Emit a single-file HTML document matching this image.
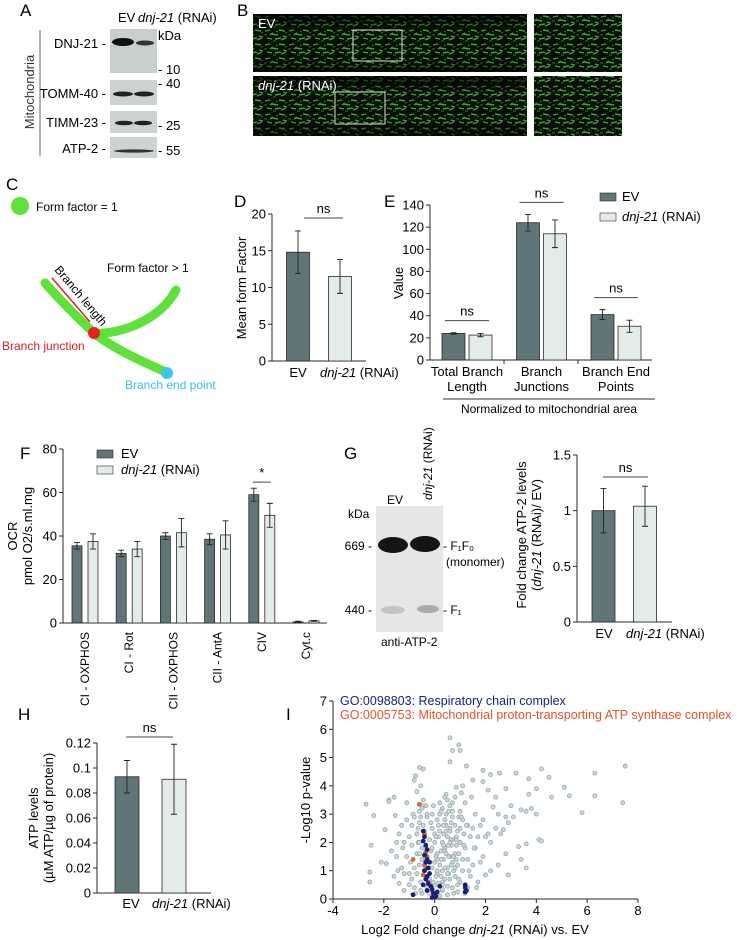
<!DOCTYPE html>
<html><head><meta charset="utf-8"><style>
body{margin:0;background:#fff}
svg{display:block;font-family:"Liberation Sans",Arial,sans-serif}
</style></head><body>
<svg id="fig" width="737" height="940" viewBox="0 0 737 940" xmlns="http://www.w3.org/2000/svg">
<defs>
<pattern id="mito" width="24" height="14" patternUnits="userSpaceOnUse">
<rect width="24" height="14" fill="#0a0d08"/>
<path d="M1 3l5-1M8 6l6 1M15 2l6 1M3 10l5 1M11 11l6-1M19 8l4 1M6 7l3-2M17 12l5-2" stroke="#3aa82a" stroke-width="1.4"/>
<path d="M0 7l3 0M12 3l2 1M21 5l2-1M9 13l3 0" stroke="#2a7a1e" stroke-width="1.1"/>
</pattern>
<linearGradient id="fade" x1="0" y1="0" x2="0" y2="1"><stop offset="0" stop-color="#000" stop-opacity="0.75"/><stop offset="0.3" stop-color="#000" stop-opacity="0"/><stop offset="0.75" stop-color="#000" stop-opacity="0"/><stop offset="1" stop-color="#000" stop-opacity="0.6"/></linearGradient>
</defs>

<!-- Panel A -->
<g font-size="13">
<text x="20" y="16" font-size="17">A</text>
<text x="118" y="22">EV</text>
<text x="138" y="22"><tspan font-style="italic">dnj-21</tspan> (RNAi)</text>
<line x1="40" y1="30" x2="40" y2="156" stroke="#666"/>
<text transform="translate(34,92) rotate(-90)" text-anchor="middle" fill="#333">Mitochondria</text>
<rect x="110" y="29" width="47" height="44" fill="#c8d0cd"/>
<ellipse cx="123" cy="42" rx="11" ry="4" fill="#111"/><ellipse cx="145" cy="43" rx="9" ry="2.5" fill="#333"/>
<rect x="110" y="80" width="47" height="25" fill="#ccd3d0"/>
<ellipse cx="123" cy="94" rx="10" ry="2.5" fill="#222"/><ellipse cx="144" cy="94" rx="10" ry="2.5" fill="#222"/>
<rect x="110" y="111" width="47" height="22" fill="#ccd3d0"/>
<ellipse cx="124" cy="123" rx="9" ry="2.3" fill="#222"/><ellipse cx="143" cy="123" rx="9" ry="2.3" fill="#222"/>
<rect x="110" y="137" width="47" height="21" fill="#ccd3d0"/>
<ellipse cx="134" cy="151" rx="20" ry="1.6" fill="#333"/>
<text x="106" y="48" text-anchor="end">DNJ-21 -</text>
<text x="106" y="98" text-anchor="end">TOMM-40 -</text>
<text x="106" y="127" text-anchor="end">TIMM-23 -</text>
<text x="106" y="153" text-anchor="end">ATP-2 -</text>
<text x="158" y="40">kDa</text>
<text x="158" y="74">- 10</text>
<text x="158" y="88">- 40</text>
<text x="158" y="130">- 25</text>
<text x="158" y="155">- 55</text>
</g>

<!-- Panel B -->
<g>
<text x="237" y="16" font-size="17">B</text>
<rect x="253" y="14" width="274" height="58" fill="url(#mito)"/>
<rect x="253" y="14" width="274" height="58" fill="url(#fade)"/>
<rect x="534" y="14" width="88" height="58" fill="url(#mito)"/>
<rect x="253" y="76" width="274" height="60" fill="url(#mito)"/>
<rect x="253" y="76" width="274" height="60" fill="url(#fade)"/>
<rect x="534" y="76" width="88" height="60" fill="url(#mito)"/>
<rect x="353" y="30" width="49" height="31" fill="none" stroke="#ddd" stroke-width="1"/>
<rect x="335" y="92" width="50" height="32" fill="none" stroke="#ddd" stroke-width="1"/>
<text x="258" y="28" fill="#fff" font-size="13">EV</text>
<text x="258" y="90" fill="#fff" font-size="13"><tspan font-style="italic">dnj-21</tspan> (RNAi)</text>
</g>

<!-- Panel C -->
<g font-size="12">
<text x="6" y="190" font-size="17">C</text>
<circle cx="20" cy="206" r="9" fill="#5fe03a"/>
<text x="36" y="211">Form factor = 1</text>
<path d="M45 283 C60 300,80 320,94 333 C115 350,150 365,166 372" fill="none" stroke="#5fe03a" stroke-width="9" stroke-linecap="round"/>
<path d="M94 333 C120 335,160 320,176 290" fill="none" stroke="#5fe03a" stroke-width="9" stroke-linecap="round"/>
<line x1="52" y1="278" x2="90" y2="322" stroke="#e02020" stroke-width="1.5"/>
<text transform="translate(54,270) rotate(50)">Branch length</text>
<circle cx="94" cy="333" r="6" fill="#e82020"/>
<circle cx="167" cy="373" r="6" fill="#38c8e8"/>
<text x="107" y="272">Form factor  &gt; 1</text>
<text x="2" y="350" fill="#e02020">Branch junction</text>
<text x="125" y="389" fill="#38c0e0">Branch end point</text>
</g>

<g font-size="12">
<text x="234" y="207" font-size="17">D</text>
<text x="384" y="207" font-size="17">E</text>
<text x="20" y="459" font-size="17">F</text>
<text x="344" y="459" font-size="17">G</text>
<text x="18" y="720" font-size="17">H</text>
<text x="286" y="720" font-size="17">I</text>
<line x1="443" y1="399" x2="655" y2="399" stroke="#333"/>
<text x="549" y="413" text-anchor="middle">Normalized to mitochondrial area</text>
</g>

<!-- Panel G blot -->
<g font-size="12">
<rect x="376" y="506" width="67" height="126" fill="#e6e6e6"/>
<ellipse cx="393" cy="545" rx="15" ry="8" fill="#151515"/><ellipse cx="425" cy="544" rx="15" ry="8" fill="#151515"/>
<ellipse cx="393" cy="610" rx="12" ry="4" fill="#c4c4c4"/><ellipse cx="428" cy="609" rx="11" ry="4" fill="#aaa"/>
<text x="387" y="504">EV</text>
<text transform="translate(432,500) rotate(-90)"><tspan font-style="italic">dnj-21</tspan> (RNAi)</text>
<text x="348" y="518">kDa</text>
<text x="372" y="550" text-anchor="end">669 -</text>
<text x="372" y="614" text-anchor="end">440 -</text>
<text x="443" y="550">- F₁F₀</text>
<text x="446" y="566">(monomer)</text>
<text x="443" y="614">- F₁</text>
<text x="381" y="646">anti-ATP-2</text>
</g>

<g id="charts"></g>
</svg>
<script>
// ---- data ----
const dCats = ['EV', 'dnj-21'];
const dVals = [14.8, 11.5];
const dErr = [2.9, 2.3];
const eCats = [['Total Branch','Length'], ['Branch','Junctions'], ['Branch End','Points']];
const eEV = [24, 124, 41];
const eRNAi = [22.5, 114, 30.5];
const eEVErr = [0.7, 7.5, 4.5];
const eRNAiErr = [1.5, 12.5, 5.5];
const fCats = ['CI - OXPHOS', 'CI - Rot', 'CII - OXPHOS', 'CII - AntA', 'CIV', 'Cyt.c'];
const fEV = [35.5, 32, 40, 38.5, 59, 0.5];
const fRNAi = [37.5, 34, 41.5, 40.5, 49.5, 1];
const fEVErr = [1.5, 1.5, 1.5, 2.5, 3, 0.3];
const fRNAiErr = [3.5, 3.5, 6.5, 6.5, 5.5, 0.2];
const gVals = [1, 1.04];
const gErr = [0.2, 0.18];
const hVals = [0.093, 0.091];
const hErr = [0.013, 0.028];
const dTicks = [0, 5, 10, 15, 20];
const eTicks = [0, 20, 40, 60, 80, 100, 120, 140];
const fTicks = [0, 20, 40, 60, 80];
const gTicks = [0, 0.5, 1, 1.5];
const gTickLabels = ['0', '0.5', '1', '1.5'];
const hTicks = [0, 0.02, 0.04, 0.06, 0.08, 0.1, 0.12];
const hTickLabels = ['0', '0.02', '0.04', '0.06', '0.08', '0.1', '0.12'];
const iXTicks = [-4, -2, 0, 2, 4, 6, 8];
const iYTicks = [0, 1, 2, 3, 4, 5, 6, 7];
const iGrayX = [-2.7,-2.4,-2.5,-2.55,-2.55,-2.1,-1.95,-1.9,-1.8,-1.8,-1.6,-1.55,-1.5,-1.45,-1.4,-1.3,-1.25,-1.2,-1.1,-1.0,-0.95,-0.9,-0.85,-0.8,-0.75,-0.7,-0.65,-0.6,-0.55,-0.6,-0.45,-0.35,-0.3,-0.7,-0.9,-1.1,-1.2,-1.4,-0.8,-1.0,
0.6,0.95,1.0,0.7,0.6,1.25,1.9,2.2,2.55,3.2,3.7,4.2,4.5,5.1,5.3,6.3,6.3,7.5,7.4,4.0,3.7,4.6,5.8,3.4,3.6,3.8,4.0,3.0,2.8,2.4,2.1,1.9,1.5,3.3,3.6,3.4,3.6,4.1,4.2,2.8,2.9,2.5,2.2,2.0,3.1,2.7,2.4,2.6,2.2,1.9,2.8,2.9,2.5,2.3,1.8,2.0,
-0.5,-0.3,-0.2,-0.4,-0.6,-0.3,-0.5,-0.2,-0.4,-0.6,-0.3,-0.5,-0.45,-0.2,0,0.1,0.2,0.1,0.3,0.2,0.4,0.3,0.5,0.45,0.6,0.7,0.6,0.5,0.4,0.6,0.5,0.4,0.3,0.7,0.8,0.9,0.8,1.0,0.9,1.1,1.0,1.2,1.3,1.4,1.2,1.3,1.1,1.0,1.4,1.5,1.6,1.5,1.7,1.8,1.7,0.2,0.5,0.9,1.3,0.0,0.0,0.1,0.2,-0.1,0.8,0.35,0.75,0.65,0.55,0.85,0.25,0.15,0.95,1.15,0.45,0.7,0.3,0.05,-0.1,-0.15,-0.1,1.6,1.9,2.1,1.45,1.05,0.85,1.1,
-0.8,-1.0,-0.7,-0.9,-1.1,-1.3,-1.6,-1.7,-1.5,-0.8,-0.75,-1.2,
-0.55,-0.5,-0.6,-0.65,-0.55,-0.5,-0.6,-0.7,-0.45,-0.55,-0.15,-0.1,-0.05,0.05,0.0,-0.05,0.1,0.15,0.25,0.3,0.35,0.4,0.45,0.55,0.6,0.65,0.7,0.75,0.8,0.85,0.9,0.95,1.05,1.1,0.15,0.25,0.35,0.45,0.55,0.65,0.75,0.85,0.2,0.3,0.4,0.5,0.6,0.7,0.8,0.1,0.35,0.55,0.75,0.95,1.15,1.25,1.35,1.55,1.65,0.05,0.25,0.45,0.65,0.85,1.0,1.2,0.3,0.5,0.4,0.6];
const iGrayY = [3.35,2.95,1.9,0.95,0.6,1.3,2.45,1.25,3.5,3.45,3.6,2.95,1.5,1.0,0.55,2.6,1.8,0.9,3.4,2.2,1.3,0.7,3.0,4.2,4.35,3.8,2.0,4.65,4.0,3.1,4.6,3.3,2.9,1.6,1.9,1.5,2.0,2.3,0.4,0.5,
5.7,5.45,5.25,5.25,4.85,4.7,4.55,4.4,4.45,4.45,4.25,4.6,4.3,3.95,3.65,4.45,3.65,4.7,3.4,3.9,3.7,3.6,3.05,3.15,3.1,3.2,3.0,3.3,3.9,3.6,3.85,4.15,4.2,1.85,1.95,1.4,1.1,2.1,2.05,1.6,0.85,1.2,1.0,0.85,2.9,2.45,2.5,2.3,2.0,1.5,2.9,2.7,3.0,3.25,2.6,2.2,
0.2,0.4,0.7,1.0,1.2,1.5,1.8,2.1,2.4,2.7,3.0,3.3,3.5,0.2,0.5,0.9,1.2,1.6,2.0,2.4,2.8,3.2,3.5,3.7,3.3,2.9,2.5,2.2,1.8,1.5,1.1,0.7,0.3,0.4,0.8,1.2,1.6,2.0,2.4,2.8,3.1,3.4,2.6,2.2,1.8,1.4,1.0,0.6,0.8,1.2,1.8,2.5,2.2,1.3,0.6,0.1,0.15,0.25,0.4,1.3,2.0,2.8,3.4,3.0,3.6,1.4,2.1,1.9,0.9,1.4,1.7,2.2,2.9,2.3,2.6,3.1,0.6,0.8,1.1,1.7,2.5,3.0,2.8,2.3,3.6,3.75,3.95,4.0,
1.1,0.9,2.3,2.6,2.8,1.1,0.8,1.7,2.0,2.9,0.2,0.3,
0.6,1.4,2.0,2.5,2.9,3.2,1.6,0.9,2.6,0.3,2.7,1.8,0.6,1.5,2.3,3.3,1.0,2.6,1.4,0.5,2.3,1.1,3.0,1.9,0.7,2.1,1.3,0.2,2.6,1.9,0.5,1.6,2.9,1.4,0.55,0.8,1.9,2.4,1.5,2.7,1.0,2.2,3.0,1.0,1.7,0.9,2.0,3.4,1.1,1.4,2.6,3.1,1.5,0.7,1.9,2.6,1.0,1.8,0.4,2.2,3.1,1.6,1.2,2.1,2.5,0.2,0.35,0.45,3.6,2.4];
const iBlueX = [-0.45,-0.4,-0.45,-0.35,-0.3,-0.4,-0.3,-0.35,-0.25,-0.4,-0.2,-0.3,-0.35,-0.25,-0.15,-0.3,-0.1,-0.05,0.0,0.05,0.1,0.2,-0.1,-0.85,1.2,1.2,1.25,1.2,-0.45,-0.2];
const iBlueY = [2.4,2.2,2.05,1.9,1.75,1.55,1.4,1.3,1.1,1.0,0.9,0.8,0.7,0.55,0.45,0.3,0.35,0.2,0.1,0.1,0.25,0.45,0.05,0.15,0.5,0.4,0.3,0.25,0.5,1.3];
const iOrangeX = [-0.6,-0.4,-0.35,-0.3,-0.4,-0.45,-0.85,-0.25,-0.1,-0.35];
const iOrangeY = [3.35,2.3,1.65,1.5,1.2,0.85,1.4,0.6,0.3,1.1];

// ---- helpers ----
const NS = 'http://www.w3.org/2000/svg';
const root = document.getElementById('charts');
const EVC = '#5f7578', RC = '#e4ecea', STROKE = '#2a2a2a';
function mk(tag, attrs, parent) {
  const e = document.createElementNS(NS, tag);
  for (const k in attrs) e.setAttribute(k, attrs[k]);
  (parent || root).appendChild(e);
  return e;
}
function txt(x, y, s, attrs, parent) {
  const t = mk('text', Object.assign({x: x, y: y, 'font-size': 12}, attrs || {}), parent);
  t.textContent = s;
  return t;
}
function linScale(d0, d1, r0, r1) { return v => r0 + (v - d0) / (d1 - d0) * (r1 - r0); }
function yAxis(g, x, sy, ticks, labels, yTop, yBot) {
  const ax = mk('line', {x1: x, y1: yTop, x2: x, y2: yBot, stroke: STROKE}, g);
  
  
  ticks.forEach((t, i) => {
    mk('line', {x1: x - 4, y1: sy(t), x2: x, y2: sy(t), stroke: STROKE}, g);
    const lb = txt(x - 6, sy(t) + 4.5, labels ? labels[i] : String(t), {'text-anchor': 'end', 'font-size': 13}, g);
    
    
  });
}
function bar(g, cx, w, sy, v, err, fill, name) {
  const r = mk('rect', {x: cx - w / 2, y: sy(v), width: w, height: sy(0) - sy(v), fill: fill, stroke: STROKE, 'stroke-width': 0.8}, g);
  
  
  const e = mk('path', {d: `M${cx} ${sy(v + err)}V${sy(v - err)}M${cx - 3} ${sy(v + err)}h6M${cx - 3} ${sy(v - err)}h6`, stroke: '#222', 'stroke-width': 0.9, fill: 'none'}, g);
  
  
}
function sig(g, x1, x2, y, label) {
  const l = mk('line', {x1: x1, y1: y, x2: x2, y2: y, stroke: '#444'}, g);
  
  
  const t = txt((x1 + x2) / 2, y - 5, label, {'text-anchor': 'middle', 'font-size': 13}, g);
  
  
}
function rnaiLabel(g, x, y, anchor) {
  const t = mk('text', {x: x, y: y, 'font-size': 13, 'text-anchor': anchor || 'start'}, g);
  const s1 = mk('tspan', {'font-style': 'italic'}, t); s1.textContent = 'dnj-21';
  const s2 = mk('tspan', {}, t); s2.textContent = ' (RNAi)';
  return t;
}

// ---- D ----
(function () {
  const g = mk('g', {});
  
  
  const sy = linScale(0, 20, 361, 214);
  yAxis(g, 272, sy, dTicks, null, 214, 361);
  mk('line', {x1: 272, y1: 361, x2: 366, y2: 361, stroke: STROKE}, g);
  const xs = [298, 340];
  dVals.forEach((v, i) => bar(g, xs[i], 23, sy, v, dErr[i], i ? RC : EVC, 'bar-d-' + dCats[i]));
  sig(g, 304, 343, 218, 'ns');
  txt(298, 377, 'EV', {'text-anchor': 'middle', 'font-size': 13}, g);
  rnaiLabel(g, 320, 377);
  const yl = txt(0, 0, 'Mean form Factor', {transform: 'translate(246,288) rotate(-90)', 'text-anchor': 'middle', 'font-size': 13}, g);
  
  
})();

// ---- E ----
(function () {
  const g = mk('g', {});
  
  
  const sy = linScale(0, 140, 360, 205);
  yAxis(g, 430, sy, eTicks, null, 205, 360);
  mk('line', {x1: 430, y1: 360, x2: 652, y2: 360, stroke: STROKE}, g);
  [504, 578].forEach(x => mk('line', {x1: x, y1: 360, x2: x, y2: 364, stroke: STROKE}, g));
  const gx = i => 467 + i * 74.5;
  eCats.forEach((c, i) => {
    bar(g, gx(i) - 13.5, 23, sy, eEV[i], eEVErr[i], EVC, 'bar-e-ev-' + i);
    bar(g, gx(i) + 13.5, 23, sy, eRNAi[i], eRNAiErr[i], RC, 'bar-e-rnai-' + i);
    const ymax = Math.max(eEV[i] + eEVErr[i], eRNAi[i] + eRNAiErr[i]);
    sig(g, gx(i) - 22, gx(i) + 22, sy(ymax) - 12, 'ns');
    const t1 = txt(gx(i), 376, c[0], {'text-anchor': 'middle', 'font-size': 13}, g);
    
    
    txt(gx(i), 391, c[1], {'text-anchor': 'middle', 'font-size': 13}, g);
  });
  const yl = txt(0, 0, 'Value', {transform: 'translate(403,283) rotate(-90)', 'text-anchor': 'middle', 'font-size': 13}, g);
  
  
  const l1 = mk('rect', {x: 600, y: 193, width: 16, height: 8, fill: EVC, stroke: STROKE, 'stroke-width': 0.6}, g);
  
  
  txt(622, 201, 'EV', {'font-size': 13}, g);
  const l2 = mk('rect', {x: 600, y: 213, width: 16, height: 8, fill: RC, stroke: STROKE, 'stroke-width': 0.6}, g);
  
  
  rnaiLabel(g, 622, 221);
})();

// ---- F ----
(function () {
  const g = mk('g', {});
  
  
  const sy = linScale(0, 80, 623, 449);
  yAxis(g, 63, sy, fTicks, null, 449, 623);
  mk('line', {x1: 63, y1: 623, x2: 327, y2: 623, stroke: STROKE}, g);
  const gx = i => 85 + i * 44.2;
  fCats.forEach((c, i) => {
    bar(g, gx(i) - 8, 10, sy, fEV[i], fEVErr[i], EVC, 'bar-f-ev-' + i);
    bar(g, gx(i) + 8, 10, sy, fRNAi[i], fRNAiErr[i], RC, 'bar-f-rnai-' + i);
    const t = txt(0, 0, c, {transform: `translate(${gx(i) + 4},632) rotate(-90)`, 'text-anchor': 'end', 'font-size': 12}, g);
    
    
  });
  const ci = 4;
  sig(g, gx(ci) - 9, gx(ci) + 9, sy(fEV[ci] + fEVErr[ci]) - 6, '*');
  const yl = txt(0, 0, 'OCR', {transform: 'translate(17,536) rotate(-90)', 'text-anchor': 'middle', 'font-size': 13}, g);
  
  
  txt(0, 0, 'pmol O2/s.ml.mg', {transform: 'translate(32,536) rotate(-90)', 'text-anchor': 'middle', 'font-size': 13}, g);
  const l1 = mk('rect', {x: 97, y: 450, width: 16, height: 8, fill: EVC, stroke: STROKE, 'stroke-width': 0.6}, g);
  
  
  txt(121, 458, 'EV', {'font-size': 13}, g);
  const l2 = mk('rect', {x: 97, y: 466, width: 16, height: 8, fill: RC, stroke: STROKE, 'stroke-width': 0.6}, g);
  
  
  rnaiLabel(g, 121, 474);
})();

// ---- G ----
(function () {
  const g = mk('g', {});
  
  
  const sy = linScale(0, 1.5, 622, 455);
  yAxis(g, 577, sy, gTicks, gTickLabels, 455, 622);
  mk('line', {x1: 577, y1: 622, x2: 672, y2: 622, stroke: STROKE}, g);
  const xs = [603.5, 645];
  gVals.forEach((v, i) => bar(g, xs[i], 23, sy, v, gErr[i], i ? RC : EVC, 'bar-g-' + i));
  sig(g, 603, 648, 477, 'ns');
  txt(604, 638, 'EV', {'text-anchor': 'middle', 'font-size': 13}, g);
  rnaiLabel(g, 626, 638);
  const yl = txt(0, 0, 'Fold change ATP-2 levels', {transform: 'translate(526,535) rotate(-90)', 'text-anchor': 'middle', 'font-size': 13}, g);
  
  
  const t2 = mk('text', {transform: 'translate(541,535) rotate(-90)', 'text-anchor': 'middle', 'font-size': 13}, g);
  const a = mk('tspan', {}, t2); a.textContent = '(';
  const b = mk('tspan', {'font-style': 'italic'}, t2); b.textContent = 'dnj-21';
  const c = mk('tspan', {}, t2); c.textContent = ' (RNAi)/ EV)';
})();

// ---- H ----
(function () {
  const g = mk('g', {});
  
  
  const sy = linScale(0, 0.12, 893, 743);
  yAxis(g, 97, sy, hTicks, hTickLabels, 743, 893);
  mk('line', {x1: 97, y1: 893, x2: 211, y2: 893, stroke: STROKE}, g);
  const xs = [127, 174];
  hVals.forEach((v, i) => bar(g, xs[i], 24, sy, v, hErr[i], i ? RC : EVC, 'bar-h-' + i));
  sig(g, 126, 173, 737, 'ns');
  txt(131, 908, 'EV', {'text-anchor': 'middle', 'font-size': 13}, g);
  rnaiLabel(g, 152, 908);
  const yl = txt(0, 0, 'ATP levels', {transform: 'translate(38,818) rotate(-90)', 'text-anchor': 'middle', 'font-size': 13}, g);
  
  
  txt(0, 0, '(µM ATP/µg of protein)', {transform: 'translate(53,818) rotate(-90)', 'text-anchor': 'middle', 'font-size': 13}, g);
})();

// ---- I ----
(function () {
  const g = mk('g', {});
  
  
  const sx = linScale(-4, 8, 333, 638);
  const sy = linScale(0, 7, 899, 701);
  yAxis(g, 333, sy, iYTicks, null, 701, 899);
  const xa = mk('line', {x1: 333, y1: 899, x2: 638, y2: 899, stroke: STROKE}, g);
  
  
  iXTicks.forEach(t => {
    mk('line', {x1: sx(t), y1: 899, x2: sx(t), y2: 903, stroke: STROKE}, g);
    const lb = txt(sx(t), 915, String(t), {'text-anchor': 'middle', 'font-size': 13}, g);
    
    
  });
  iGrayX.forEach((x, i) => {
    const c = mk('circle', {cx: sx(x), cy: sy(iGrayY[i]), r: 2, fill: '#cdd9d8', stroke: '#93a8a8', 'stroke-width': 0.8}, g);
    
    
  });
  iOrangeX.forEach((x, i) => {
    const c = mk('circle', {cx: sx(x), cy: sy(iOrangeY[i]), r: 2.4, fill: '#e0642a'}, g);
    
    
  });
  iBlueX.forEach((x, i) => {
    const c = mk('circle', {cx: sx(x), cy: sy(iBlueY[i]), r: 2.4, fill: '#15207a'}, g);
    
    
  });
  const l1 = txt(340, 705, 'GO:0098803: Respiratory chain complex', {fill: '#1a237e', 'font-size': 12.5}, g);
  
  
  const l2 = txt(340, 719, 'GO:0005753: Mitochondrial proton-transporting ATP synthase complex', {fill: '#e0542a', 'font-size': 12.5}, g);
  
  
  const yl = txt(0, 0, '-Log10 p-value', {transform: 'translate(310,800) rotate(-90)', 'text-anchor': 'middle', 'font-size': 13}, g);
  
  
  const xt = mk('text', {x: 475, y: 934, 'text-anchor': 'middle', 'font-size': 13}, g);
  
  
  const a = mk('tspan', {}, xt); a.textContent = 'Log2 Fold change ';
  const b = mk('tspan', {'font-style': 'italic'}, xt); b.textContent = 'dnj-21';
  const c = mk('tspan', {}, xt); c.textContent = ' (RNAi) vs. EV';
})();
</script>
</body></html>
